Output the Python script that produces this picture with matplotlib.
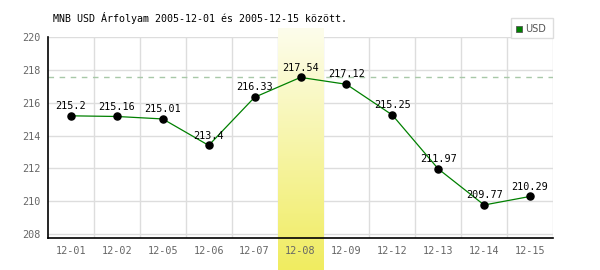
import matplotlib
matplotlib.use("Agg")
import matplotlib.pyplot as plt
import numpy as np
from matplotlib.patches import Rectangle

dates = ["12-01", "12-02", "12-05", "12-06", "12-07", "12-08", "12-09", "12-12", "12-13", "12-14", "12-15"]
values = [215.2, 215.16, 215.01, 213.4, 216.33, 217.54, 217.12, 215.25, 211.97, 209.77, 210.29]
yticks = [208, 210, 212, 214, 216, 218, 220]
title = "MNB USD Árfolyam 2005-12-01 és 2005-12-15 között."
series_name = "USD"
highlight_idx = 5

mono = "DejaVu Sans Mono"
fig = plt.figure(figsize=(6, 2.7), dpi=100)
ax = fig.add_axes([48/600, 1-238/270, 505/600, (238-37)/270])
ymin, ymax = 207.76, 220.0
ax.set_ylim(ymin, ymax)
ax.set_xlim(-0.5, len(dates) - 0.5)

# highlight gradient column
ppu = (238-37) / (ymax - ymin)
top = ymax + (37-28)/ppu
bot = ymin - (270-238)/ppu
grad = np.linspace(0, 1, 256).reshape(-1, 1)
c_top = np.array([253, 253, 236]) / 255
c_bot = np.array([240, 236, 96]) / 255
img = c_top[None, None, :] * (1 - grad[:, :, None]) + c_bot[None, None, :] * grad[:, :, None]
ax.imshow(img, extent=[highlight_idx-0.5, highlight_idx+0.5, bot, top], aspect='auto',
          origin='upper', clip_on=False, zorder=1.6)

# grid
for y in yticks:
    ax.axhline(y, color="#dddddd", lw=1, zorder=1)
for i in range(len(dates)):
    ax.axvline(i + 0.5, color="#dddddd", lw=1, zorder=1)

ax.axhline(max(values), color="#a8c8a8", lw=1, ls=(0, (4, 4)), zorder=1.5)

x = np.arange(len(dates))
ax.plot(x, values, color="#008000", lw=0.9, zorder=2)
ax.scatter(x, values, s=26, color="black", zorder=3)
for xi, v in zip(x, values):
    ax.annotate(f"{v:g}", (xi, v), xytext=(0, 3.5), textcoords="offset points",
                ha="center", va="bottom", fontsize=7.3, family=mono, color="black", zorder=4)

ax.set_yticks(yticks)
ax.set_yticklabels([str(t) for t in yticks], family=mono, fontsize=7.3, color="#666666")
ax.set_xticks(x)
ax.set_xticklabels(dates, family=mono, fontsize=7.3, color="#666666")
ax.tick_params(length=0, pad=5)
ax.tick_params(axis="x", pad=6)
ax.xaxis.set_zorder(5)
ax.yaxis.set_zorder(5)
for s in ["top", "right"]:
    ax.spines[s].set_visible(False)
ax.spines["left"].set_color("black")
ax.spines["bottom"].set_color("black")
ax.spines["left"].set_linewidth(1.2)
ax.spines["bottom"].set_linewidth(1.2)
ax.spines["left"].set_zorder(5)
ax.spines["bottom"].set_zorder(5)

fig.text(53/600, 1-18/270, title, family=mono, fontsize=7.2, ha="left", va="center", color="black")

# legend box
lx0, ly0, lw_, lh = 511, 18, 42, 20
fig.patches.append(Rectangle((lx0/600, 1-(ly0+lh)/270), lw_/600, lh/270, transform=fig.transFigure,
                             facecolor="white", edgecolor="#dddddd", lw=1))
fig.patches.append(Rectangle((516/600, 1-32/270), 6/600, 6/270, transform=fig.transFigure,
                             facecolor="#008000", edgecolor="#555555", lw=0.6))
fig.text(525/600, 1-29/270, series_name, fontsize=7, ha="left", va="center", color="#555555")

fig.savefig("out.png", dpi=100)
